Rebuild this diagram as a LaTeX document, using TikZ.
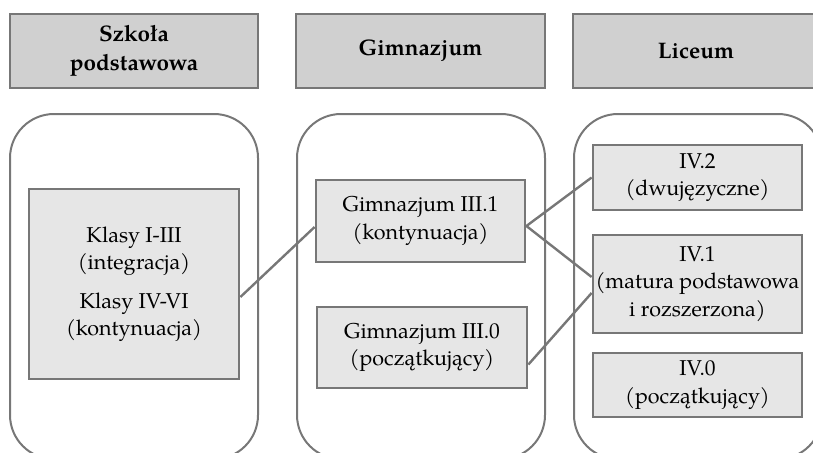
\documentclass[tikz,border=0pt]{standalone}
\usepackage{fontspec}
\setmainfont{TeX Gyre Pagella}
\usetikzlibrary{calc}
\definecolor{edgegray}{HTML}{777777}
\definecolor{headfill}{HTML}{D0D0D0}
\definecolor{boxfill}{HTML}{E6E6E6}
\tikzset{
  header/.style={draw=edgegray, line width=2.8pt, fill=headfill, inner sep=0pt, align=center,
    font=\fontsize{22.5}{29}\selectfont\bfseries, text=black},
  stage/.style={draw=edgegray, line width=2pt, rounded corners=44pt, inner sep=0pt},
  item/.style={draw=edgegray, line width=2.8pt, fill=boxfill, inner sep=0pt, align=center,
    font=\fontsize{21.5}{27.5}\selectfont, text=black},
  link/.style={draw=edgegray, line width=2.4pt},
}
\begin{document}
\begin{tikzpicture}[x=1pt,y=-1pt]
\clip (0,0) rectangle (813,452);
% headers
\node[header, minimum width=248pt, minimum height=74pt] (h1) at (134,51) {Szkoła\\podstawowa};
\node[header, minimum width=249pt, minimum height=74pt] (h2) at (420.5,51) {Gimnazjum};
\node[header, minimum width=246pt, minimum height=74pt] (h3) at (696,51) {Liceum};
% stage containers
\node[stage, minimum width=248pt, minimum height=345pt] (s1) at (134,286.5) {};
\node[stage, minimum width=248pt, minimum height=345pt] (s2) at (421,286.5) {};
\node[stage, minimum width=248pt, minimum height=345pt] (s3) at (698,286.5) {};
% items
\node[item, minimum width=210pt, minimum height=190pt] (klasy) at (134,284)
  {Klasy I-III\\(integracja)\\[11pt]Klasy IV-VI\\(kontynuacja)};
\node[item, minimum width=209pt, minimum height=82pt] (g1) at (420.5,221)
  {Gimnazjum III.1\\(kontynuacja)};
\node[item, minimum width=210pt, minimum height=81pt] (g0) at (422,347.5)
  {Gimnazjum III.0\\(początkujący)};
\node[item, minimum width=209pt, minimum height=65pt] (l2) at (697.5,177.5)
  {IV.2\\(dwujęzyczne)};
\node[item, minimum width=209pt, minimum height=98pt] (l1) at (697.5,284)
  {IV.1\\(matura podstawowa\\i rozszerzona)};
\node[item, minimum width=209pt, minimum height=64pt] (l0) at (697.5,385)
  {IV.0\\(początkujący)};
% connectors
\draw[link] ($(klasy.east)+(0,13)$) -- ($(g1.west)+(0,6)$);
\draw[link] ($(g1.east)+(0,5)$) -- ($(l2.west)+(0,0)$);
\draw[link] ($(g1.east)+(0,5)$) -- ($(l1.west)+(0,-7)$);
\draw[link] ($(g0.east)+(0,17)$) -- ($(l1.west)+(0,9)$);
\end{tikzpicture}
\end{document}
